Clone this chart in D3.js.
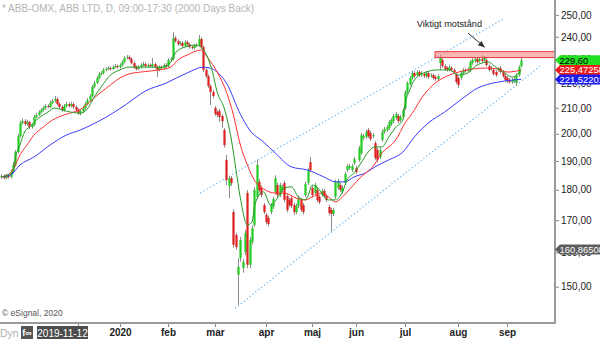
<!DOCTYPE html>
<html><head><meta charset="utf-8">
<script src="https://cdn.jsdelivr.net/npm/d3@7"></script>
<style>
body{margin:0;background:#fff;}
svg{display:block;font-family:"Liberation Sans",Arial,sans-serif;}
</style>
</head><body>
<svg id="c" width="600" height="339"></svg>
<script>
// ---------------- DATA ----------------
const title = "* ABB-OMX, ABB LTD, D, 09:00-17:30 (2000 Days Back)";
const firstTradingDay = "2019-10-16";
const holidays = ["2019-12-24","2019-12-25","2019-12-26","2019-12-31","2020-01-01","2020-01-06","2020-04-10","2020-04-13","2020-05-01","2020-05-21","2020-06-19"];
const monthNames = ["jan","feb","mar","apr","maj","jun","jul","aug","sep","okt","nov","dec"];

const open = [
184.4,184.7,184.0,184.7,184.4,186.1,188.6,193.2,199.1,204.1,
204.8,203.7,204.5,202.5,203.3,206.4,207.2,208.3,209.1,209.9,
210.7,210.3,211.9,212.7,213.5,211.5,210.3,209.1,210.7,211.5,
210.7,211.5,210.3,209.1,207.9,208.7,209.9,211.5,213.1,214.7,
218.4,220.0,222.1,223.8,224.2,225.5,225.9,226.3,225.9,226.7,
227.1,226.7,227.6,228.9,230.6,231.0,230.2,228.4,226.7,225.9,
226.7,227.6,228.0,227.1,227.6,227.1,228.0,226.7,225.5,226.7,
226.3,227.6,227.1,229.7,230.2,239.4,238.1,236.7,237.2,235.9,
237.6,236.7,235.4,235.0,235.9,236.3,239.0,235.4,225.5,222.9,
218.8,216.3,209.9,208.3,208.7,206.8,201.4,190.4,181.3,184.0,
172.6,165.3,153.4,158.3,155.4,160.1,178.9,156.3,163.2,168.5,
177.6,182.7,180.6,174.9,171.7,170.7,172.6,174.3,179.3,181.6,
178.2,179.9,182.3,177.9,176.6,177.2,174.9,172.6,174.6,176.6,
174.9,178.2,182.3,189.6,180.6,178.9,179.9,177.6,178.2,179.6,
177.9,174.3,173.3,172.0,177.6,180.6,181.6,179.3,182.3,186.8,
187.5,186.8,189.3,187.5,190.4,192.9,198.4,198.8,201.4,200.3,
199.1,196.5,194.0,191.4,197.7,200.7,201.4,202.2,203.7,204.8,
206.0,206.8,205.2,206.4,209.9,216.3,219.6,222.1,224.2,223.3,
224.6,223.3,223.8,222.9,224.2,222.9,223.3,222.5,221.7,228.4,
229.7,227.1,226.3,225.5,226.3,225.5,223.8,222.1,222.1,224.2,
225.5,225.0,225.5,228.4,229.3,230.2,229.3,230.2,229.7,229.7,
227.1,225.9,225.5,224.6,225.5,226.3,224.6,222.9,222.1,221.3,
220.4,220.8,220.0,223.3,227.1];
const close = [
184.7,184.0,184.7,184.4,186.1,188.6,193.2,199.1,204.1,204.8,
203.7,204.5,202.5,203.3,206.4,207.2,208.3,209.1,209.9,210.7,
210.3,211.9,212.7,213.5,211.5,210.3,209.1,210.7,211.5,210.7,
211.5,210.3,209.1,207.9,208.7,209.9,211.5,213.1,214.7,218.4,
220.0,222.1,223.8,224.2,225.5,225.9,226.3,225.9,226.7,227.1,
226.7,227.6,228.9,230.6,231.0,230.2,228.4,226.7,225.9,226.7,
227.6,228.0,227.1,227.6,227.1,228.0,226.7,225.5,226.7,226.3,
227.6,227.1,229.7,230.2,239.4,238.1,236.7,237.2,235.9,237.6,
236.7,235.4,235.0,235.9,236.3,239.0,235.4,225.5,222.9,218.8,
216.3,214.7,207.6,207.2,206.4,204.8,195.8,183.3,184.0,182.3,
162.3,161.6,155.7,163.8,157.2,166.0,156.3,163.8,167.5,179.9,
188.6,179.9,178.2,172.6,169.4,168.8,174.9,176.9,184.0,178.2,
181.6,181.0,176.6,173.3,174.9,174.6,172.6,174.6,177.2,173.3,
172.6,182.0,186.8,186.8,178.2,181.6,176.6,175.9,179.6,177.9,
176.6,172.3,172.0,173.3,182.7,183.0,179.9,180.6,185.4,188.2,
188.2,188.2,190.7,186.1,194.7,199.5,199.1,200.7,199.1,198.0,
199.5,191.1,190.4,194.0,200.7,201.8,202.5,204.5,205.2,206.8,
207.6,204.8,206.4,209.1,216.3,220.0,222.1,224.2,222.9,224.6,
223.3,224.2,222.9,224.2,222.5,223.3,222.1,221.7,222.9,230.6,
227.1,225.9,225.5,226.7,225.5,224.6,220.4,219.2,224.2,225.5,
225.0,225.9,228.9,229.7,230.2,228.9,230.2,229.3,230.6,227.6,
225.5,226.3,223.8,223.3,225.9,224.6,222.9,221.3,220.8,220.4,
221.3,221.7,223.3,226.7,229.6];
const high = [
185.4,185.3,185.5,185.4,187.0,189.6,194.0,200.0,205.0,205.8,
205.6,205.3,205.0,204.0,207.2,208.0,209.1,209.9,210.8,211.5,
211.4,212.8,213.5,214.7,214.2,212.2,211.0,211.5,212.3,212.2,
212.4,212.1,211.0,209.8,209.4,210.6,212.3,213.9,215.5,219.2,
220.9,222.9,224.6,225.0,226.3,226.7,227.1,227.0,227.5,228.0,
227.8,228.3,229.7,231.4,231.9,231.8,230.9,229.1,227.4,227.5,
228.4,228.9,228.7,228.3,228.3,230.6,228.7,227.4,227.4,227.4,
228.3,228.4,230.5,231.0,242.1,240.3,238.9,238.0,238.0,238.4,
238.4,237.4,236.2,236.7,237.1,240.8,239.8,236.1,226.2,223.6,
219.5,217.1,210.7,209.1,209.5,207.6,202.2,192.2,184.7,184.7,
173.5,166.0,158.3,164.7,158.0,166.9,179.9,164.7,168.3,180.8,
190.4,183.6,181.4,175.6,172.4,171.4,175.6,177.6,185.0,182.4,
182.4,181.8,183.1,178.6,177.3,178.0,175.6,175.4,178.0,177.3,
175.6,182.8,187.6,191.4,181.3,182.4,180.6,178.3,180.4,180.3,
178.6,175.0,174.0,174.0,183.5,183.8,182.4,181.4,186.2,189.0,
189.0,189.0,191.5,188.3,195.5,200.3,199.9,201.5,202.2,201.1,
200.3,197.3,194.8,194.8,201.5,202.6,203.3,205.3,206.0,207.6,
208.4,207.6,207.2,209.9,217.1,220.8,222.9,225.0,225.0,225.4,
225.4,225.0,224.6,225.0,225.0,224.1,224.0,223.3,223.7,231.9,
230.5,227.9,227.0,227.5,227.1,226.2,224.5,222.8,225.0,226.3,
226.2,226.7,229.7,230.5,231.0,231.0,231.0,231.9,231.4,230.5,
227.9,227.1,226.2,225.4,226.7,227.1,225.4,223.7,222.9,222.1,
222.1,222.5,224.1,227.5,231.0];
const low = [
183.7,183.5,183.6,183.8,183.9,185.6,188.0,192.8,198.6,203.5,
203.0,203.0,201.8,201.9,202.8,205.9,206.7,207.8,208.6,209.3,
209.8,209.8,211.4,212.1,210.9,209.6,208.4,208.5,210.2,210.1,
210.1,209.7,208.4,207.2,207.0,208.0,209.3,211.0,212.6,214.2,
217.8,219.5,221.5,223.2,223.6,224.9,225.3,225.3,225.4,226.2,
226.0,226.1,227.0,228.3,230.0,229.6,227.8,226.0,225.2,225.3,
226.1,227.0,226.5,226.5,226.5,226.5,226.1,222.5,224.9,225.6,
225.7,226.5,226.5,229.0,229.5,237.4,236.0,236.1,235.2,235.2,
236.0,234.7,234.3,234.4,235.3,235.7,234.6,224.6,222.1,218.0,
211.1,213.8,206.8,206.4,204.5,202.2,194.9,181.6,177.2,181.3,
161.4,160.8,145.0,157.2,154.0,159.2,155.3,155.3,162.4,167.8,
176.8,179.0,177.4,171.9,168.6,168.0,171.9,173.6,178.5,177.4,
177.5,179.2,175.8,172.5,174.2,173.9,171.7,171.9,173.9,172.6,
171.8,177.5,181.6,186.1,177.4,178.2,175.8,175.2,177.6,177.2,
175.9,171.6,166.3,171.3,176.9,180.0,179.2,178.6,181.6,186.1,
186.8,186.1,188.6,185.4,189.7,192.2,197.6,198.1,198.4,197.3,
198.4,190.3,189.6,190.7,197.0,200.0,200.7,201.5,203.0,204.1,
205.3,204.1,204.5,205.7,209.2,215.6,218.9,221.4,222.2,222.6,
222.6,222.6,222.2,222.2,221.8,222.2,221.4,220.9,221.0,225.5,
226.4,225.2,224.8,224.9,224.8,223.9,219.7,218.0,221.4,223.5,
224.3,224.3,224.8,227.7,228.6,228.2,228.6,228.6,229.0,226.9,
224.8,225.2,223.1,222.6,224.8,223.9,222.2,220.6,220.0,219.7,
219.6,220.0,218.8,222.6,226.5];

// moving averages (bar index -> value)
const maFastBars = [0,3,5,6,8,10,12,15,20,23,25,28,34,37,40,43,47,51,55,60,70,73,75,78,84,86,89,91,93,96,99,101,103,106,108,109,111,113,116,119,122,125,128,131,132,134,136,138,141,144,147,149,152,155,158,161,164,167,170,173,174,176,178,183,188,193,197,201,205,210,213,217,220,222,224];
const maFastValues = [184.4,185.1,186.1,191.1,195.8,200.7,202.5,205.2,208.3,209.9,209.5,208.7,207.9,209.5,214.3,218.4,223.3,225.5,226.7,226.7,226.7,228.9,232.8,235.0,236.3,235.4,230.6,224.6,216.3,209.9,198.4,187.5,177.2,168.5,169.4,173.9,178.2,179.3,174.9,177.2,180.6,181.0,177.6,176.6,177.6,181.6,181.0,178.9,176.6,176.6,179.3,183.3,185.8,189.3,193.2,195.1,195.1,198.8,202.5,205.2,211.5,217.1,221.3,224.6,225.5,225.5,223.3,224.2,227.6,228.9,226.7,224.2,222.5,223.3,225.5];
const maMidBars = [0,4,6,8,11,14,18,22,27,31,35,38,43,47,51,55,60,68,73,76,80,86,89,93,97,100,103,106,109,113,118,122,127,131,134,138,141,144,147,151,155,160,164,170,174,178,180,186,193,197,203,209,214,218,222,224];
const maMidValues = [184.4,185.8,188.6,192.2,195.8,199.5,202.5,205.2,207.2,208.3,209.9,212.3,216.3,219.2,222.1,223.8,224.6,225.5,226.7,229.7,231.9,234.1,230.6,224.6,216.3,207.2,195.8,188.6,183.3,180.3,178.9,178.9,177.2,176.6,177.6,178.9,177.6,175.9,177.6,181.0,184.4,187.9,192.9,197.7,204.1,209.1,212.3,219.2,223.3,224.6,225.9,226.3,225.9,224.6,225.0,225.47258];
const maSlowBars = [0,4,8,14,21,28,34,42,48,54,62,71,80,87,90,93,97,103,107,113,118,125,132,139,144,148,152,157,161,167,173,178,184,191,199,205,214,221,224];
const maSlowValues = [184.4,185.1,188.6,191.4,195.8,199.5,201.4,204.8,207.9,211.5,216.7,220.0,224.2,226.7,226.3,224.6,220.0,207.5,201.4,196.9,192.9,187.9,186.8,184.4,182.7,182.7,184.4,185.8,187.9,190.4,193.2,198.8,204.1,208.3,213.9,217.8,220.4,221.3,221.52201];

// trend channel (bar index, price)
const channelUpperBars = [85.6, 216.2];
const channelUpperValues = [178.9, 248.1];
const channelLowerBars = [100.7, 232.2];
const channelLowerValues = [144.0, 227.1];

// resistance zone
const zoneStartBar = 186.9;
const zoneLow = 230.8, zoneHigh = 233.4;
const noteText = "Viktigt motstånd";

const yTicks = [150,160,170,180,190,200,210,220,230,240,250];
const lastValues = [229.60, 225.47258, 221.52201, 160.86508];
const lastLabels = ["229,60","225,47258","221,52201","160,86508"];

// ---------------- CHART ----------------
const svg = d3.select("#c");
const plotRight = 555, plotBottom = 323;
const N = close.length;
const x = d3.scaleLinear().domain([0, N - 1]).range([1.4, 521.1]);
const y = d3.scaleLog().domain([140.1, 257.2]).range([plotBottom, 0]);

// trading dates
const fmt = d3.utcFormat("%Y-%m-%d");
const hol = new Set(holidays);
const dates = [];
let day = new Date(firstTradingDay + "T00:00:00Z");
while (dates.length < N) {
  const wd = day.getUTCDay();
  if (wd !== 0 && wd !== 6 && !hol.has(fmt(day))) dates.push(new Date(day));
  day = d3.utcDay.offset(day, 1);
}

svg.append("defs").append("clipPath").attr("id","plot")
  .append("rect").attr("x",0).attr("y",0).attr("width",plotRight).attr("height",plotBottom);
const mk = svg.select("defs").append("marker").attr("id","arr")
  .attr("viewBox","0 0 10 10").attr("refX",9).attr("refY",5)
  .attr("markerWidth",7).attr("markerHeight",7).attr("orient","auto");
mk.append("path").attr("d","M0,1 L10,5 L0,9 Z").attr("fill","#333");

// title
svg.append("text").attr("x",2).attr("y",12).attr("font-size",10)
  .attr("fill","#b4b4b4").text(title);

const g = svg.append("g").attr("clip-path","url(#plot)");

// channel lines
[[channelUpperBars, channelUpperValues],[channelLowerBars, channelLowerValues]].forEach(([b,v]) => {
  g.append("line").attr("x1",x(b[0])).attr("y1",y(v[0])).attr("x2",x(b[1])).attr("y2",y(v[1]))
    .attr("stroke","#6ab8f0").attr("stroke-width",1.2).attr("stroke-dasharray","1.3,2.4");
});

// candles
const cg = g.append("g");
d3.range(N).forEach(i => {
  const cx = Math.round(x(i)) + 0.5;
  cg.append("line").attr("x1",cx).attr("x2",cx).attr("y1",y(high[i])).attr("y2",y(low[i]))
    .attr("stroke","#8c8c8c").attr("stroke-width",1);
  const top = y(Math.max(open[i],close[i])), bot = y(Math.min(open[i],close[i]));
  cg.append("rect").attr("x",cx-1.1).attr("width",2.2)
    .attr("y",top).attr("height",Math.max(1,bot-top))
    .attr("fill", close[i] >= open[i] ? "#22cc22" : "#dd2020");
});

// moving averages
const line = d3.line().curve(d3.curveMonotoneX);
[[maSlowBars,maSlowValues,"#3b3bff"],[maMidBars,maMidValues,"#ff3030"],[maFastBars,maFastValues,"#249a24"]].forEach(([b,v,c]) => {
  g.append("path").attr("d", line(b.map((bi,k)=>[x(bi), y(v[k])])))
    .attr("fill","none").attr("stroke",c).attr("stroke-width",1);
});

// resistance zone
g.append("rect").attr("x",x(zoneStartBar)).attr("y",y(zoneHigh))
  .attr("width",plotRight - x(zoneStartBar)).attr("height",y(zoneLow)-y(zoneHigh))
  .attr("fill","rgba(245,120,120,0.55)").attr("stroke","#e83a3a").attr("stroke-width",1);

// annotation
svg.append("text").attr("x",x(193.1)).attr("y",y(244.4)).attr("text-anchor","middle")
  .attr("font-size",9.2).attr("fill","#222").text(noteText);
svg.append("line").attr("x1",x(201.1)).attr("y1",y(241.7)).attr("x2",x(208.2)).attr("y2",y(235.4))
  .attr("stroke","#333").attr("stroke-width",1).attr("marker-end","url(#arr)");

// right axis
const ra = svg.append("g").attr("transform",`translate(${plotRight},0)`)
  .call(d3.axisRight(y).tickValues(yTicks).tickSize(4).tickSizeOuter(0).tickPadding(2)
    .tickFormat(d => d.toFixed(2).replace(".",",")));
ra.select(".domain").remove();
ra.selectAll("line").attr("stroke","#888");
ra.selectAll("text").attr("font-size",10).attr("fill","#222").attr("font-family","Liberation Sans, Arial, sans-serif");
svg.append("line").attr("x1",plotRight).attr("x2",plotRight).attr("y1",0).attr("y2",plotBottom+1)
  .attr("stroke","#9a9a9a").attr("stroke-width",2);

// bottom axis
svg.append("line").attr("x1",0).attr("x2",plotRight+1).attr("y1",plotBottom).attr("y2",plotBottom)
  .attr("stroke","#9a9a9a").attr("stroke-width",2);
const monthStarts = d3.range(1,N).filter(i => dates[i].getUTCMonth() !== dates[i-1].getUTCMonth() && x(i) > 60);
monthStarts.forEach(i => {
  const tx = Math.round(x(i)) + 0.5;
  svg.append("line").attr("x1",tx).attr("x2",tx).attr("y1",plotBottom+1).attr("y2",plotBottom+4)
    .attr("stroke","#888");
  const m = dates[i].getUTCMonth();
  if (x(i) > 100) {
    svg.append("text").attr("x",tx).attr("y",336).attr("text-anchor","middle")
      .attr("font-size",10).attr("font-weight","bold").attr("fill","#222")
      .text(m === 0 ? String(dates[i].getUTCFullYear()) : monthNames[m]);
  }
});

// value tags on the right
const tagColors = [["#22e022","#000"],["#f01c1c","#fff"],["#1c1cf0","#fff"],["#5c5c5c","#fff"]];
lastValues.forEach((v,k) => {
  const yc = y(v);
  svg.append("path").attr("d",`M${plotRight},${yc} L${plotRight+5},${yc-5} L600,${yc-5} L600,${yc+5} L${plotRight+5},${yc+5} Z`)
    .attr("fill",tagColors[k][0]);
  svg.append("text").attr("x",plotRight+4.5).attr("y",yc+3.4).attr("font-size",9.4)
    .attr("fill",tagColors[k][1]).text(lastLabels[k]);
});

// bottom-left widgets
svg.append("text").attr("x",2).attr("y",316).attr("font-size",8.5).attr("fill","#555").text("© eSignal, 2020");
svg.append("text").attr("x",0).attr("y",337).attr("font-size",10.5).attr("fill","#b0b0b0").text("Dyn");
svg.append("rect").attr("x",21).attr("y",326).attr("width",12).attr("height",13).attr("fill","#555");
svg.append("text").attr("x",27).attr("y",336).attr("text-anchor","middle").attr("font-size",9).attr("font-weight","bold").attr("fill","#fff").text("f∞");
svg.append("rect").attr("x",37).attr("y",326).attr("width",51).attr("height",13).attr("fill","#4d4d4d");
svg.append("text").attr("x",62.5).attr("y",336.5).attr("text-anchor","middle").attr("font-size",10).attr("fill","#fff").text(fmt(new Date("2019-11-12T00:00:00Z")));
</script>
</body></html>
